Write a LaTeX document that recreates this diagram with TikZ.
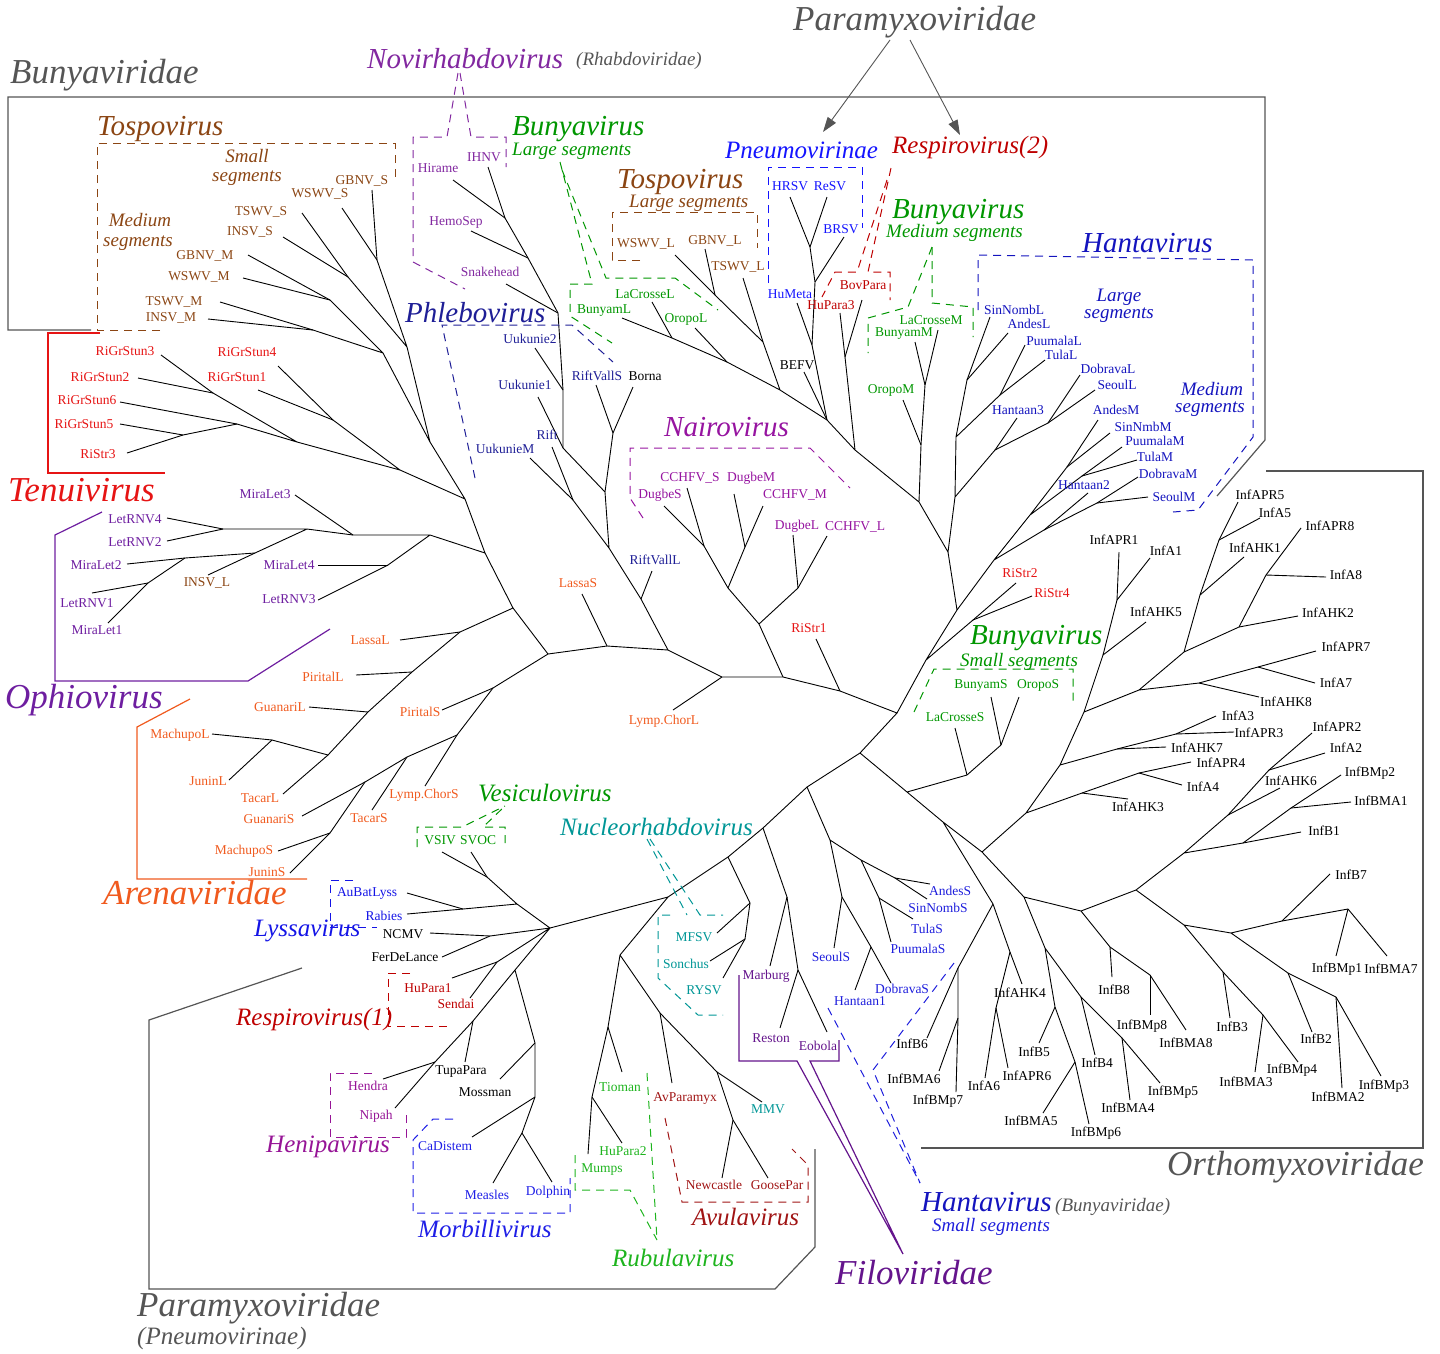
\documentclass[tikz,border=0pt]{standalone}
\usepackage{fontspec}
\setmainfont{Liberation Serif}
\usetikzlibrary{arrows.meta}
\definecolor{tospo}{RGB}{139,69,19}
\definecolor{tenui}{RGB}{230,20,20}
\definecolor{ophio}{RGB}{110,30,160}
\definecolor{arena}{RGB}{240,90,30}
\definecolor{phlebo}{RGB}{30,30,150}
\definecolor{novi}{RGB}{130,40,160}
\definecolor{bunya}{RGB}{0,150,0}
\definecolor{pneumo}{RGB}{20,20,255}
\definecolor{respiro}{RGB}{190,0,0}
\definecolor{hanta}{RGB}{20,20,190}
\definecolor{hantaS}{RGB}{30,30,220}
\definecolor{nairo}{RGB}{150,20,160}
\definecolor{lyssa}{RGB}{20,20,230}
\definecolor{nucleo}{RGB}{0,150,150}
\definecolor{henipa}{RGB}{150,20,150}
\definecolor{morbi}{RGB}{30,30,230}
\definecolor{rubula}{RGB}{30,180,30}
\definecolor{avula}{RGB}{160,20,20}
\definecolor{filo}{RGB}{100,20,140}
\definecolor{famgray}{RGB}{85,85,85}
\tikzset{
 br/.style={line width=0.9pt,black},
 leaf/.style={inner sep=0pt,font=\fontsize{13.5}{14}\selectfont},
 g35/.style={inner sep=0pt,anchor=west,font=\fontsize{35}{36}\selectfont\itshape},
 g29/.style={inner sep=0pt,anchor=west,font=\fontsize{29}{30}\selectfont\itshape},
 g25/.style={inner sep=0pt,anchor=west,font=\fontsize{25}{26}\selectfont\itshape},
 g19/.style={inner sep=0pt,anchor=west,font=\fontsize{19}{20}\selectfont\itshape},
 s19/.style={inner sep=0pt,font=\fontsize{19}{20}\selectfont\itshape},
 nd/.style={text depth=0pt},
 dsh/.style={dash pattern=on 8pt off 6pt,line width=1pt},
 frm/.style={line width=1.2pt},
 fam/.style={text=famgray}
}
\newcommand\lv[5]{\coordinate (t#1) at (#3); \node[leaf] (n#1) at (#4) {#5}; \draw[br] (#2) -- (t#1);}
\begin{document}
\begin{tikzpicture}[x=1pt,y=-1pt]
\useasboundingbox (0,0) rectangle (1440,1353);
% ---------- internal nodes
\foreach \n/\p in {bb1/{548,654},bb2/{607,646},bb3/{668,650},bb4/{722,677},bb5/{783,677},bb6/{840,691},H/{897,713},N2/{860,753},N3/{907,792},N4/{807,787},N5/{763,828},N6/{728,857},N7/{668,897},N8/{620,955},X/{550,928},
a1/{513,608},ar1/{493,688},t0/{485,553},ar2/{460,632},t1/{465,499},op1/{430,535},to1/{430,442},te1/{400,470},tS/{407,347},tM/{383,353},tS1/{377,260},tS2/{348,277},tM1/{330,300},tM2/{313,330},
te2/{297,442},te3/{333,420},te6/{213,393},te5/{237,424},te7/{183,435},op2/{353,535},op3/{388,565},op4/{307,529},op5/{223,529},op6/{255,553},op7/{185,558},op8/{148,583},
ar3/{412,672},ar4/{368,712},ar5/{328,755},ar6/{272,740},ar7/{457,735},ar8/{407,757},ar9/{365,782},ar10/{330,833},
ph7/{641,599},ph5/{609,548},ph3/{605,492},ph6/{573,500},ph2/{563,448},ph4/{613,433},ph1/{563,390},nv3/{558,313},nv2/{528,258},nv1/{505,218},
na1/{759,624},na2/{798,588},na3/{728,588},na4/{745,547},na5/{704,546},
u1/{926,660},u2/{957,610},rs/{973,620},u3/{948,552},mM/{994,560},lL6/{955,497},u4/{919,502},bm1/{921,445},bm2/{925,385},u5/{855,450},re2/{845,357},u6/{827,420},
bl0/{780,390},bL/{727,362},bL2/{672,338},tL/{763,342},tL2/{715,295},pn3/{812,345},pn2/{815,282},pn1/{810,247},
lL3/{956,437},lL5/{995,450},lL1/{967,380},lL2/{1000,395},lL4/{1048,423},mB/{1030,515},mD/{1044,530},mA/{1067,467},mPT/{1082,476},mDS/{1097,503},
bS/{967,775},bS2/{1001,745},or1/{943,822},or2/{993,904},or3/{982,852},or4/{958,968},or5/{1010,952},or6/{958,1018},or7/{996,1008},
or8/{1026,813},or9/{1024,897},in1/{1060,765},in2/{1082,793},in3/{1139,773},in4/{1084,712},in5/{1117,749},in6/{1176,734},in7/{1103,655},in8/{1139,690},in9/{1117,600},
in10/{1184,652},in11/{1199,683},in12/{1258,667},in13/{1200,595},in14/{1239,627},in15/{1219,540},in16/{1266,575},
ib1/{1045,948},ib2/{1081,911},ib3/{1055,1007},ib4/{1081,997},ib5/{1075,1062},ib6/{1122,1038},ib7/{1110,947},ib8/{1136,890},ib9/{1150,975},ib10/{1184,925},ib11/{1184,853},
ib12/{1223,972},ib13/{1231,933},ib14/{1263,1015},ib15/{1288,973},ib16/{1282,921},ib17/{1336,997},ib18/{1348,909},ib19/{1243,843},ib20/{1228,815},ib21/{1291,808},ib22/{1269,770},
hS1/{830,840},hS2/{861,860},hS3/{842,897},hS4/{895,878},hS5/{879,898},hS6/{871,947},
fi1/{787,897},fi2/{798,970},nu1/{750,903},nu2/{745,939},ru1/{608,1027},ru2/{592,1097},av0/{660,1013},av1/{717,1072},av2/{733,1120},
vl/{517,904},ly/{463,909},ve/{487,877},rh1/{490,936},re1/{497,962},pm1/{515,970},pm2/{473,1021},he1/{435,1062},mo1/{535,1043},mo2/{535,1097},mo3/{522,1133}}
 {\coordinate (\n) at (\p);}
% ---------- tree branches
\draw[br] (bb1)--(bb2)--(bb3)--(bb4)--(bb5)--(bb6)--(H)--(N2)--(N4)--(N5)--(N6)--(N7)--(X);
\draw[br] (bb1)--(a1) (bb1)--(ar1) (a1)--(t0) (a1)--(ar2) (t0)--(t1) (t0)--(op1) (t1)--(to1) (t1)--(te1)
 (to1)--(tS) (to1)--(tM) (tS)--(tS1) (tS)--(tS2) (tM)--(tM1) (tM)--(tM2) (te1)--(te2) (te1)--(te3) (te2)--(te6) (te2)--(te5) (te5)--(te7)
 (op1)--(op2) (op1)--(op3) (op2)--(op4) (op4)--(op5) (op4)--(op6) (op6)--(op7) (op7)--(op8)
 (ar2)--(ar3)--(ar4)--(ar5)--(ar6) (ar1)--(ar7)--(ar8)--(ar9)--(ar10);
\draw[br] (bb3)--(ph7)--(ph5)--(ph3)--(ph2)--(ph1)--(nv3)--(nv2)--(nv1) (ph5)--(ph6) (ph3)--(ph4)
 (bb5)--(na1)--(na3)--(na4) (na1)--(na2) (na3)--(na5);
\draw[br] (H)--(u1)--(u2)--(u3)--(u4)--(u5)--(u6)--(bl0)--(bL)--(bL2) (u1)--(rs) (u2)--(mM)--(mB)--(mA) (mB)--(mPT) (mM)--(mD)--(mDS)
 (u3)--(lL6)--(lL3)--(lL1) (lL3)--(lL2) (lL6)--(lL5)--(lL4) (u4)--(bm1)--(bm2) (u5)--(re2) (u6)--(pn3)--(pn2)--(pn1) (bl0)--(tL)--(tL2);
\draw[br] (N2)--(N3)--(bS)--(bS2) (N3)--(or1)--(or2)--(or4)--(or6) (or2)--(or5)--(or7) (or1)--(or3)--(or8)--(in1)--(in4)--(in7)--(in9)
 (or8)--(in2)--(in3) (in1)--(in5)--(in6) (in4)--(in8)--(in10)--(in13)--(in15) (in8)--(in11)--(in12) (in10)--(in14)--(in16)
 (or3)--(or9)--(ib1)--(ib3)--(ib5) (ib1)--(ib4)--(ib6) (or9)--(ib2)--(ib7)--(ib9) (ib2)--(ib8)--(ib10)--(ib12)--(ib14)
 (ib10)--(ib13)--(ib15)--(ib17) (ib13)--(ib16)--(ib18) (ib8)--(ib11)--(ib19)--(ib21) (ib11)--(ib20)--(ib22);
\draw[br] (N4)--(hS1)--(hS2)--(hS4) (hS2)--(hS5) (hS1)--(hS3)--(hS6) (N5)--(fi1)--(fi2) (N6)--(nu1)--(nu2)
 (N7)--(N8)--(ru1)--(ru2) (N8)--(av0)--(av1)--(av2)
 (X)--(vl)--(ly) (vl)--(ve) (X)--(rh1) (X)--(re1) (X)--(pm1)--(pm2)--(he1) (pm1)--(mo1)--(mo2)--(mo3);
% ---------- leaves
\begin{scope}[leaf/.append style={text=novi}]
\lv{Hir}{nv1}{453,180}{438,168}{Hirame}
\lv{IHNV}{nv1}{488,167}{484,157}{IHNV}
\lv{Hem}{nv2}{471,231}{456,222}{HemoSep}
\lv{Snk}{nv3}{506,284}{490,272}{Snakehead}
\end{scope}
\begin{scope}[leaf/.append style={text=phlebo}]
\lv{Uk2}{ph1}{535,348}{530,339}{Uukunie2}
\lv{Uk1}{ph2}{538,397}{525,385}{Uukunie1}
\lv{UkM}{ph6}{530,458}{505,449}{UukunieM}
\lv{Rift}{ph6}{552,447}{547,435}{Rift}
\lv{RVS}{ph4}{596,385}{597,376}{RiftVallS}
\lv{RVL}{ph7}{652,571}{655,560}{RiftVallL}
\end{scope}
\lv{Borna}{ph4}{633,387}{645,376}{Borna}
\lv{BEFV}{u6}{804,372}{797,365}{BEFV}
\lv{NCMV}{rh1}{430,933}{403,934}{NCMV}
\lv{Fer}{rh1}{442,957}{405,957}{FerDeLance}
\lv{Tupa}{pm2}{465,1062}{461,1071}{TupaPara}
\lv{Moss}{mo1}{500,1079}{485,1092}{Mossman}
\begin{scope}[leaf/.append style={text=bunya}]
\lv{LCL}{bL2}{652,302}{645,294}{LaCrosseL}
\lv{BuL}{bL2}{622,318}{604,311}{BunyamL}
\lv{OrL}{bL}{695,328}{686,319}{OropoL}
\lv{LCM}{bm2}{938,330}{931,320}{LaCrosseM}
\lv{BuM}{bm2}{915,342}{904,334}{BunyamM}
\lv{OrM}{bm1}{903,400}{891,390}{OropoM}
\lv{LCS}{bS}{955,728}{955,717}{LaCrosseS}
\lv{BuS}{bS2}{991,697}{981,685}{BunyamS}
\lv{OrS}{bS2}{1019,697}{1038,685}{OropoS}
\lv{VSIV}{ve}{442,852}{440,840}{VSIV}
\lv{SVOC}{ve}{471,852}{478,840}{SVOC}
\end{scope}
\begin{scope}[leaf/.append style={text=tospo}]
\lv{WL}{tL2}{675,255}{646,244}{WSWV\_L}
\lv{GL}{tL2}{705,249}{715,241}{GBNV\_L}
\lv{TL}{tL}{743,278}{738,267}{TSWV\_L}
\lv{GS}{tS1}{372,190}{362,181}{GBNV\_S}
\lv{WS}{tS1}{342,208}{320,194}{WSWV\_S}
\lv{TS}{tS2}{302,213}{261,212}{TSWV\_S}
\lv{IS}{tS2}{283,237}{250,232}{INSV\_S}
\lv{GM}{tM1}{248,255}{205,256}{GBNV\_M}
\lv{WM}{tM1}{243,278}{199,277}{WSWV\_M}
\lv{TM}{tM2}{220,302}{174,302}{TSWV\_M}
\lv{IM}{tM2}{208,319}{171,318}{INSV\_M}
\lv{IL}{op6}{208,575}{207,583}{INSV\_L}
\end{scope}
\begin{scope}[leaf/.append style={text=pneumo}]
\lv{HRSV}{pn1}{790,197}{790,186}{HRSV}
\lv{ReSV}{pn1}{827,197}{830,186}{ReSV}
\lv{BRSV}{pn2}{844,237}{841,229}{BRSV}
\lv{HuMeta}{pn3}{797,303}{790,294}{HuMeta}
\end{scope}
\begin{scope}[leaf/.append style={text=respiro}]
\lv{BovP}{re2}{862,300}{863,285}{BovPara}
\lv{HuPt}{re2}{840,313}{831,305}{HuPara3}
\lv{HuPo}{re1}{452,978}{428,988}{HuPara1}
\lv{Send}{re1}{470,998}{456,1004}{Sendai}
\end{scope}
\begin{scope}[leaf/.append style={text=hanta}]
\lv{SNL}{lL1}{990,317}{1014,310}{SinNombL}
\lv{ANL}{lL1}{1008,333}{1029,324}{AndesL}
\lv{PUL}{lL2}{1025,345}{1054,341}{PuumalaL}
\lv{TUL}{lL2}{1045,360}{1061,355}{TulaL}
\lv{DOL}{lL4}{1080,375}{1108,369}{DobravaL}
\lv{SEL}{lL4}{1095,390}{1117,385}{SeoulL}
\lv{HA3}{lL5}{1017,418}{1018,410}{Hantaan3}
\lv{ANM}{mA}{1098,420}{1116,410}{AndesM}
\lv{SNM}{mA}{1110,433}{1143,427}{SinNmbM}
\lv{PUM}{mPT}{1122,447}{1155,441}{PuumalaM}
\lv{TUM}{mPT}{1137,460}{1155,457}{TulaM}
\lv{HA2}{mD}{1088,493}{1084,485}{Hantaan2}
\lv{DOM}{mDS}{1138,477}{1168,474}{DobravaM}
\lv{SEM}{mDS}{1148,497}{1174,497}{SeoulM}
\end{scope}
\begin{scope}[leaf/.append style={text=hantaS}]
\lv{ANS}{hS4}{930,884}{950,891}{AndesS}
\lv{SNS}{hS4}{927,899}{938,908}{SinNombS}
\lv{TUS}{hS5}{913,919}{927,929}{TulaS}
\lv{PUS}{hS5}{891,942}{918,949}{PuumalaS}
\lv{SES}{hS3}{834,948}{831,957}{SeoulS}
\lv{DOS}{hS6}{891,983}{902,989}{DobravaS}
\lv{HA1}{hS6}{855,990}{860,1001}{Hantaan1}
\end{scope}
\begin{scope}[leaf/.append style={text=nairo}]
\lv{CCS}{na5}{687,488}{690,478}{CCHFV\_S}
\lv{DGS}{na5}{664,506}{660,495}{DugbeS}
\lv{DGM}{na4}{734,494}{751,478}{DugbeM}
\lv{CCM}{na4}{763,506}{795,495}{CCHFV\_M}
\lv{DGL}{na2}{793,535}{797,526}{DugbeL}
\lv{CCL}{na2}{827,536}{855,527}{CCHFV\_L}
\end{scope}
\begin{scope}[leaf/.append style={text=tenui}]
\lv{RSa}{bb6}{816,639}{809,628}{RiStr1}
\lv{RSb}{rs}{1016,583}{1020,573}{RiStr2}
\lv{RSd}{rs}{1032,596}{1052,593}{RiStr4}
\lv{RG3}{te6}{161,355}{125,351}{RiGrStun3}
\lv{RG2}{te6}{138,378}{100,377}{RiGrStun2}
\lv{RG4}{te3}{278,366}{247,352}{RiGrStun4}
\lv{RG1}{te3}{258,390}{237,377}{RiGrStun1}
\lv{RG6}{te5}{120,402}{87,400}{RiGrStun6}
\lv{RG5}{te7}{120,424}{84,424}{RiGrStun5}
\lv{RSc}{te7}{127,453}{98,454}{RiStr3}
\end{scope}
\begin{scope}[leaf/.append style={text=ophio}]
\lv{ML3}{op2}{295,495}{265,494}{MiraLet3}
\lv{LR4}{op5}{167,518}{135,519}{LetRNV4}
\lv{LR2}{op5}{167,541}{135,542}{LetRNV2}
\lv{ML2}{op7}{127,564}{96,565}{MiraLet2}
\lv{LR1}{op8}{92,593}{87,603}{LetRNV1}
\lv{ML1}{op8}{108,623}{97,630}{MiraLet1}
\lv{ML4}{op3}{318,565}{289,565}{MiraLet4}
\lv{LR3}{op3}{318,600}{289,599}{LetRNV3}
\end{scope}
\begin{scope}[leaf/.append style={text=arena}]
\lv{LaS}{bb2}{582,594}{578,583}{LassaS}
\lv{LaL}{ar2}{400,640}{370,640}{LassaL}
\lv{PiL}{ar3}{356,675}{323,677}{PiritalL}
\lv{GuL}{ar4}{309,707}{280,707}{GuanariL}
\lv{MaL}{ar6}{212,734}{180,735}{MachupoL}
\lv{JuL}{ar6}{229,780}{208,781}{JuninL}
\lv{TaL}{ar5}{283,794}{260,798}{TacarL}
\lv{PiS}{ar1}{442,710}{420,712}{PiritalS}
\lv{LyS}{ar7}{425,786}{424,795}{Lymp.ChorS}
\lv{TaS}{ar8}{372,810}{369,818}{TacarS}
\lv{GuS}{ar9}{302,816}{269,819}{GuanariS}
\lv{MaS}{ar10}{278,851}{244,851}{MachupoS}
\lv{JuS}{ar10}{290,873}{267,872}{JuninS}
\lv{LyL}{bb4}{673,710}{664,721}{Lymp.ChorL}
\end{scope}
\begin{scope}[leaf/.append style={text=lyssa}]
\lv{ABL}{ly}{407,893}{367,893}{AuBatLyss}
\lv{Rab}{ly}{407,914}{384,916}{Rabies}
\end{scope}
\begin{scope}[leaf/.append style={text=henipa}]
\lv{Hen}{he1}{383,1079}{368,1086}{Hendra}
\lv{Nip}{he1}{395,1108}{376,1116}{Nipah}
\end{scope}
\begin{scope}[leaf/.append style={text=morbi}]
\lv{CaD}{mo2}{472,1137}{445,1146}{CaDistem}
\lv{Mea}{mo3}{493,1183}{487,1195}{Measles}
\lv{Dol}{mo3}{552,1182}{548,1192}{Dolphin}
\end{scope}
\begin{scope}[leaf/.append style={text=rubula}]
\lv{Tio}{ru1}{622,1072}{620,1087}{Tioman}
\lv{Mum}{ru2}{588,1154}{602,1169}{Mumps}
\lv{HuPb}{ru2}{622,1143}{623,1151}{HuPara2}
\end{scope}
\begin{scope}[leaf/.append style={text=avula}]
\lv{AvP}{av0}{672,1083}{685,1098}{AvParamyx}
\lv{New}{av2}{722,1178}{714,1185}{Newcastle}
\lv{Goo}{av2}{768,1178}{777,1185}{GoosePar}
\end{scope}
\begin{scope}[leaf/.append style={text=nucleo}]
\lv{MMV}{av1}{762,1102}{768,1109}{MMV}
\lv{MFSV}{nu1}{717,933}{694,937}{MFSV}
\lv{Son}{nu2}{710,961}{686,964}{Sonchus}
\lv{RYSV}{nu2}{723,978}{704,990}{RYSV}
\end{scope}
\begin{scope}[leaf/.append style={text=filo}]
\lv{Mar}{fi1}{770,966}{766,976}{Marburg}
\lv{Res}{fi2}{780,1028}{771,1038}{Reston}
\lv{Eob}{fi2}{827,1032}{818,1046}{Eobola}
\end{scope}
% Orthomyxo leaves
\lv{IAPRe}{in15}{1238,502}{1260,495}{InfAPR5}
\lv{IAe}{in15}{1260,518}{1275,513}{InfA5}
\lv{IAHKa}{in13}{1244,557}{1255,548}{InfAHK1}
\lv{IAPRh}{in16}{1301,528}{1330,526}{InfAPR8}
\lv{IAh}{in16}{1326,577}{1346,575}{InfA8}
\lv{IAHKb}{in14}{1298,616}{1328,613}{InfAHK2}
\lv{IAPRg}{in12}{1316,651}{1346,647}{InfAPR7}
\lv{IAg}{in12}{1315,683}{1336,683}{InfA7}
\lv{IAHKh}{in11}{1259,697}{1286,702}{InfAHK8}
\lv{IAc}{in6}{1216,716}{1238,716}{InfA3}
\lv{IAPRc}{in6}{1234,732}{1259,733}{InfAPR3}
\lv{IAHKg}{in5}{1166,747}{1197,748}{InfAHK7}
\lv{IAPRa}{in9}{1119,552}{1114,540}{InfAPR1}
\lv{IAa}{in9}{1150,558}{1166,551}{InfA1}
\lv{IAHKe}{in7}{1146,622}{1156,612}{InfAHK5}
\lv{IAPRd}{in3}{1191,762}{1221,763}{InfAPR4}
\lv{IAd}{in3}{1182,785}{1203,787}{InfA4}
\lv{IAHKc}{in2}{1128,799}{1138,807}{InfAHK3}
\lv{IAPRb}{ib22}{1312,733}{1337,727}{InfAPR2}
\lv{IAb}{ib22}{1325,753}{1346,748}{InfA2}
\lv{IAHKf}{ib20}{1280,788}{1291,781}{InfAHK6}
\lv{IBMpb}{ib21}{1341,775}{1370,773}{InfBMp2}
\lv{IBMAa}{ib21}{1351,802}{1381,801}{InfBMA1}
\lv{IBa}{ib19}{1301,832}{1324,831}{InfB1}
\lv{IBg}{ib16}{1330,874}{1351,875}{InfB7}
\lv{IBMpa}{ib18}{1336,956}{1337,969}{InfBMp1}
\lv{IBMAg}{ib18}{1387,956}{1391,969}{InfBMA7}
\lv{IBh}{ib7}{1112,977}{1114,990}{InfB8}
\lv{IBMph}{ib9}{1150,1015}{1142,1026}{InfBMp8}
\lv{IBMAh}{ib9}{1186,1030}{1186,1043}{InfBMA8}
\lv{IBc}{ib12}{1230,1018}{1232,1027}{InfB3}
\lv{IBMAc}{ib14}{1255,1072}{1246,1082}{InfBMA3}
\lv{IBMpd}{ib14}{1298,1062}{1292,1070}{InfBMp4}
\lv{IBb}{ib15}{1312,1032}{1316,1039}{InfB2}
\lv{IBMAb}{ib17}{1342,1088}{1338,1097}{InfBMA2}
\lv{IBMpc}{ib17}{1381,1076}{1384,1086}{InfBMp3}
\lv{IAHKd}{or5}{1022,984}{1020,993}{InfAHK4}
\lv{IBf}{or4}{927,1038}{912,1044}{InfB6}
\lv{IBMAf}{or6}{939,1071}{914,1079}{InfBMA6}
\lv{IBMpg}{or6}{956,1092}{938,1101}{InfBMp7}
\lv{IAf}{or7}{985,1078}{984,1086}{InfA6}
\lv{IAPRf}{or7}{1008,1068}{1027,1076}{InfAPR6}
\lv{IBe}{ib3}{1039,1043}{1034,1052}{InfB5}
\lv{IBMAe}{ib5}{1043,1113}{1031,1121}{InfBMA5}
\lv{IBMpf}{ib5}{1089,1124}{1096,1133}{InfBMp6}
\lv{IBd}{ib4}{1095,1055}{1097,1063}{InfB4}
\lv{IBMAd}{ib6}{1130,1100}{1128,1108}{InfBMA4}
\lv{IBMpe}{ib6}{1160,1083}{1173,1092}{InfBMp5}
% ---------- solid frames
\draw[frm,famgray] (91,330)--(8,330)--(8,97)--(1265,97)--(1265,440)--(1217,496);
\draw[frm,tenui] (100,333)--(48,333)--(48,473)--(165,473);
\draw[frm,ophio] (102,512)--(55,535)--(55,681)--(248,681)--(330,629);
\draw[frm,arena] (190,699)--(137,727)--(137,879)--(307,879);
\draw[frm,famgray] (1266,471)--(1423,471)--(1423,1148)--(921,1148);
\draw[frm,famgray] (302,968)--(149,1020)--(149,1289)--(775,1289)--(815,1247)--(815,1149);
\draw[frm,filo] (739,975)--(739,1061)--(797,1061)--(903,1254)--(810,1061)--(839,1061)--(839,1040);
% ---------- dashed group outlines
\draw[dsh,novi] (458,73)--(447,137)--(413,137)--(413,262)--(465,289);
\draw[dsh,novi] (460,73)--(471,137)--(506,137)--(506,167);
\draw[dsh,bunya] (560,162)--(592,284)--(570,284)--(570,316)--(612,343);
\draw[dsh,bunya] (562,170)--(606,278)--(675,278)--(718,310);
\draw[dsh,tospo] (640,260)--(612,260)--(612,212)--(757,212)--(757,248);
\draw[dsh,tospo] (160,330)--(97,330)--(97,143)--(395,143)--(395,178);
\draw[dsh,phlebo] (475,478)--(442,325)--(572,325)--(613,362);
\draw[dsh,pneumo] (768,283)--(768,167)--(862,167)--(862,228);
\draw[dsh,respiro] (891,168)--(868,272)--(890,272)--(890,300);
\draw[dsh,respiro] (887,180)--(857,272)--(835,272)--(822,297);
\draw[dsh,bunya] (932,247)--(932,303)--(973,307)--(973,337);
\draw[dsh,bunya] (932,247)--(908,307)--(868,318)--(868,353);
\draw[dsh,hanta] (978,310)--(978,255)--(1253,260)--(1253,437)--(1198,510)--(1173,512);
\draw[dsh,nairo] (643,518)--(630,498)--(630,448)--(810,448)--(850,488);
\draw[dsh,bunya] (914,712)--(934,669)--(1073,669)--(1073,705);
\draw[dsh,bunya] (417,847)--(417,827)--(462,827)--(505,806);
\draw[dsh,bunya] (505,843)--(505,827)--(483,827)--(505,806);
\draw[dsh,nucleo] (647,839)--(687,915);
\draw[dsh,nucleo] (650,839)--(700,915)--(723,915);
\draw[dsh,nucleo] (670,915)--(658,915)--(658,978)--(698,1015)--(723,1015);
\draw[dsh,lyssa] (353,880)--(330,880)--(330,927)--(377,927);
\draw[dsh,respiro] (410,973)--(388,973)--(388,1026)--(447,1026);
\draw[dsh,henipa] (372,1073)--(330,1073)--(330,1137)--(406,1137)--(406,1115);
\draw[dsh,morbi] (453,1119)--(433,1119)--(413,1140)--(413,1213)--(570,1213)--(570,1178);
\draw[dsh,rubula] (575,1155)--(575,1190)--(630,1190)--(657,1240);
\draw[dsh,rubula] (647,1073)--(657,1240);
\draw[dsh,avula] (665,1118)--(682,1202)--(808,1202)--(808,1165)--(792,1149);
\draw[dsh,hantaS] (828,1008)--(920,1183);
\draw[dsh,hantaS] (954,963)--(873,1070)--(920,1183);
% ---------- group labels
\node[g35,fam] (Lbunyaviridae) at (10,75) {Bunyaviridae};
\node[g35,fam] (Lparatop) at (793,22) {Paramyxoviridae};
\node[g29,text=novi] (Lnovi) at (367,59) {Novirhabdovirus};
\node[g19,fam] (Lrhab) at (576,61) {(Rhabdoviridae)};
\node[g29,text=tospo] (Ltospo) at (97,129) {Tospovirus};
\node[s19,nd,text=tospo] (LtSa) at (247,156) {Small};
\node[s19,text=tospo] (LtSb) at (247,178) {segments};
\node[s19,nd,text=tospo] (LtMa) at (140,220) {Medium};
\node[s19,text=tospo] (LtMb) at (138,243) {segments};
\node[g29,nd,text=bunya] (LbunL) at (512,126) {Bunyavirus};
\node[g19,text=bunya] (LbunLs) at (512,151) {Large segments};
\node[g29,nd,text=tospo] (LtosL) at (617,179) {Tospovirus};
\node[g19,text=tospo] (LtosLs) at (629,203) {Large segments};
\node[g25,text=pneumo] (Lpneumo) at (725,150) {Pneumovirinae};
\node[g25,text=respiro] (Lresp2) at (892,147) {Respirovirus(2)};
\node[g29,nd,text=bunya] (LbunM) at (892,209) {Bunyavirus};
\node[g19,text=bunya] (LbunMs) at (886,233) {Medium segments};
\node[g29,text=hanta] (Lhanta) at (1082,243) {Hantavirus};
\node[s19,nd,text=hanta] (LhLa) at (1119,295) {Large};
\node[s19,text=hanta] (LhLb) at (1119,315) {segments};
\node[s19,nd,text=hanta] (LhMa) at (1212,389) {Medium};
\node[s19,text=hanta] (LhMb) at (1210,409) {segments};
\node[g29,text=phlebo] (Lphlebo) at (405,313) {Phlebovirus};
\node[g29,text=nairo] (Lnairo) at (664,427) {Nairovirus};
\node[g35,text=tenui] (Ltenui) at (8,490) {Tenuivirus};
\node[g35,text=ophio] (Lophio) at (5,700) {Ophiovirus};
\node[g29,nd,text=bunya] (LbunS) at (970,635) {Bunyavirus};
\node[g19,text=bunya] (LbunSs) at (960,662) {Small segments};
\node[g35,text=arena] (Larena) at (103,893) {Arenaviridae};
\node[g25,text=bunya] (Lvesic) at (478,793) {Vesiculovirus};
\node[g25,text=nucleo] (Lnucleo) at (560,827) {Nucleorhabdovirus};
\node[g25,text=lyssa] (Llyssa) at (254,931) {Lyssavirus};
\node[g25,text=respiro] (Lresp1) at (236,1019) {Respirovirus(1)};
\node[g25,text=henipa] (Lhenipa) at (266,1147) {Henipavirus};
\node[g25,text=morbi] (Lmorbi) at (418,1229) {Morbillivirus};
\node[g25,text=rubula] (Lrubula) at (612,1258) {Rubulavirus};
\node[g25,text=avula] (Lavula) at (692,1217) {Avulavirus};
\node[g35,text=filo] (Lfilo) at (835,1273) {Filoviridae};
\node[g29,nd,text=hanta] (LhantaS) at (921,1202) {Hantavirus};
\node[g19,fam] (Lbunyfam) at (1055,1207) {(Bunyaviridae)};
\node[g19,text=hantaS] (LhantaSs) at (932,1227) {Small segments};
\node[g35,fam] (Lortho) at (1167,1167) {Orthomyxoviridae};
\node[g35,nd,fam] (Lparabot) at (137,1304) {Paramyxoviridae};
\node[g25,fam] (Lpneubot) at (137,1338) {(Pneumovirinae)};
% ---------- arrows
\coordinate (arA0) at (890,40); \coordinate (arA) at (823,132);
\coordinate (arB0) at (910,40); \coordinate (arB) at (960,135);
\draw[famgray,line width=0.9pt,-{Triangle[length=15pt,width=10pt]}] (arA0)--(arA);
\draw[famgray,line width=0.9pt,-{Triangle[length=15pt,width=10pt]}] (arB0)--(arB);
\end{tikzpicture}
\end{document}
